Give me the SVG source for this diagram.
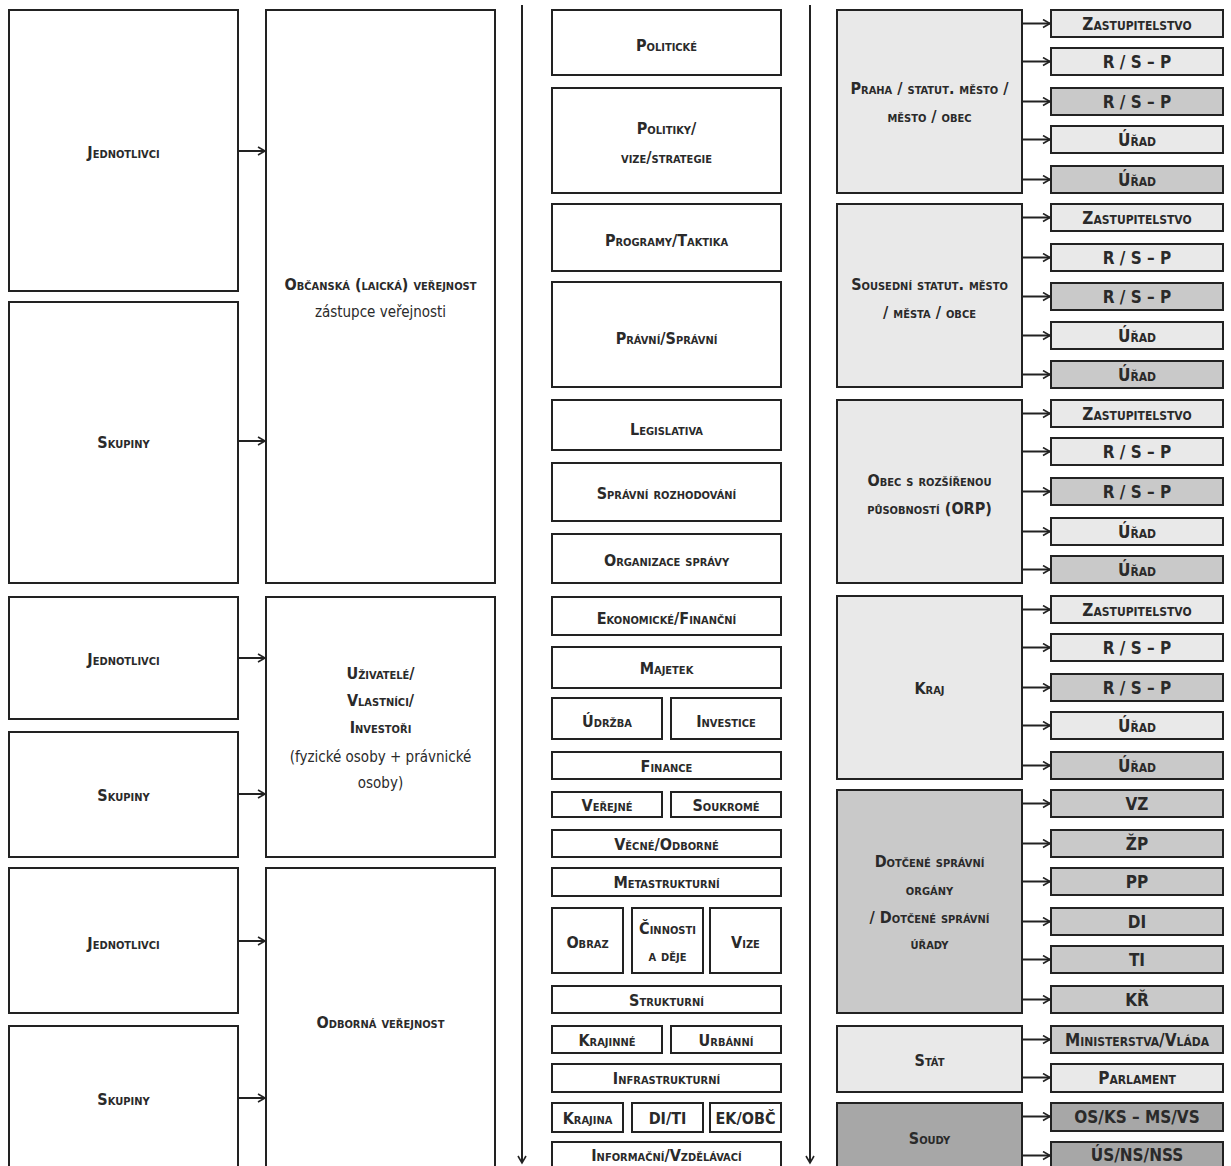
<svg xmlns="http://www.w3.org/2000/svg" width="1231" height="1166" viewBox="0 0 1231 1166">
<defs>
<style>
.b{fill:#fff;stroke:#222;stroke-width:2}
.l{fill:#e9e9e9;stroke:#222;stroke-width:2}
.m{fill:#c9c9c9;stroke:#222;stroke-width:2}
.d{fill:#a7a7a7;stroke:#222;stroke-width:2}
text{font-family:"DejaVu Sans Condensed","DejaVu Sans","Liberation Sans",sans-serif;font-variant:small-caps;font-size:16px;fill:#2a2a2a;text-anchor:middle;dominant-baseline:central;font-weight:bold}
text.n{font-variant:normal;font-weight:normal;font-size:15px}
text.r{font-size:17px;font-weight:bold}
.c{stroke:#222;stroke-width:2;fill:none}
</style>
<marker id="a" markerWidth="10" markerHeight="10" refX="8" refY="5" orient="auto" markerUnits="userSpaceOnUse">
<path d="M1,1 L8,5 L1,9" fill="none" stroke="#222" stroke-width="1.6"/>
</marker>
</defs>
<g id="connectors">
<path class="c" d="M238,151H265" marker-end="url(#a)"/>
<path class="c" d="M238,441H265" marker-end="url(#a)"/>
<path class="c" d="M238,658H265" marker-end="url(#a)"/>
<path class="c" d="M238,794H265" marker-end="url(#a)"/>
<path class="c" d="M238,941H265" marker-end="url(#a)"/>
<path class="c" d="M238,1098H265" marker-end="url(#a)"/>
<path class="c" d="M522,5V1163" marker-end="url(#a)"/>
<path class="c" d="M810,5V1163" marker-end="url(#a)"/>
<path class="c" d="M1022,23.5H1050" marker-end="url(#a)"/>
<path class="c" d="M1022,61.5H1050" marker-end="url(#a)"/>
<path class="c" d="M1022,101.5H1050" marker-end="url(#a)"/>
<path class="c" d="M1022,139.5H1050" marker-end="url(#a)"/>
<path class="c" d="M1022,179.5H1050" marker-end="url(#a)"/>
<path class="c" d="M1022,217.5H1050" marker-end="url(#a)"/>
<path class="c" d="M1022,257.5H1050" marker-end="url(#a)"/>
<path class="c" d="M1022,296.5H1050" marker-end="url(#a)"/>
<path class="c" d="M1022,335.5H1050" marker-end="url(#a)"/>
<path class="c" d="M1022,374.5H1050" marker-end="url(#a)"/>
<path class="c" d="M1022,413.5H1050" marker-end="url(#a)"/>
<path class="c" d="M1022,451.5H1050" marker-end="url(#a)"/>
<path class="c" d="M1022,491.5H1050" marker-end="url(#a)"/>
<path class="c" d="M1022,531.5H1050" marker-end="url(#a)"/>
<path class="c" d="M1022,569.5H1050" marker-end="url(#a)"/>
<path class="c" d="M1022,609.5H1050" marker-end="url(#a)"/>
<path class="c" d="M1022,647.5H1050" marker-end="url(#a)"/>
<path class="c" d="M1022,687.5H1050" marker-end="url(#a)"/>
<path class="c" d="M1022,725.5H1050" marker-end="url(#a)"/>
<path class="c" d="M1022,765.5H1050" marker-end="url(#a)"/>
<path class="c" d="M1022,803.5H1050" marker-end="url(#a)"/>
<path class="c" d="M1022,843.5H1050" marker-end="url(#a)"/>
<path class="c" d="M1022,881.5H1050" marker-end="url(#a)"/>
<path class="c" d="M1022,921.5H1050" marker-end="url(#a)"/>
<path class="c" d="M1022,959.5H1050" marker-end="url(#a)"/>
<path class="c" d="M1022,999.5H1050" marker-end="url(#a)"/>
<path class="c" d="M1022,1039.5H1050" marker-end="url(#a)"/>
<path class="c" d="M1022,1077.5H1050" marker-end="url(#a)"/>
<path class="c" d="M1022,1116.5H1050" marker-end="url(#a)"/>
<path class="c" d="M1022,1155.5H1050" marker-end="url(#a)"/>
</g>
<g id="left">
<g id="l1"><rect class="b" x="9" y="10" width="229" height="281"/><text x="123.5" y="152">Jednotlivci</text></g>
<g id="l2"><rect class="b" x="9" y="302" width="229" height="281"/><text x="123.5" y="442">Skupiny</text></g>
<g id="l3"><rect class="b" x="266" y="10" width="229" height="573"/><text x="380.5" y="284">Občanská (laická) veřejnost</text><text class="n" x="380.5" y="312">zástupce veřejnosti</text></g>
<g id="l4"><rect class="b" x="9" y="597" width="229" height="122"/><text x="123.5" y="659">Jednotlivci</text></g>
<g id="l5"><rect class="b" x="9" y="732" width="229" height="125"/><text x="123.5" y="795">Skupiny</text></g>
<g id="l6"><rect class="b" x="266" y="597" width="229" height="260"/><text x="380.5" y="673">Uživatelé/</text><text x="380.5" y="700">Vlastníci/</text><text x="380.5" y="727">Investoři</text><text class="n" x="380.5" y="757">(fyzické osoby + právnické</text><text class="n" x="380.5" y="783">osoby)</text></g>
<g id="l7"><rect class="b" x="9" y="868" width="229" height="145"/><text x="123.5" y="943">Jednotlivci</text></g>
<g id="l8"><rect class="b" x="9" y="1026" width="229" height="160"/><text x="123.5" y="1099">Skupiny</text></g>
<g id="l9"><rect class="b" x="266" y="868" width="229" height="320"/><text x="380.5" y="1022">Odborná veřejnost</text></g>
</g>
<g id="middle">
<g id="m1"><rect class="b" x="552" y="10" width="229" height="65"/><text x="666.5" y="45">Politické</text></g>
<g id="m2"><rect class="b" x="552" y="88" width="229" height="105"/><text x="666.5" y="128">Politiky/</text><text x="666.5" y="157">vize/strategie</text></g>
<g id="m3"><rect class="b" x="552" y="204" width="229" height="67"/><text x="666.5" y="240">Programy/Taktika</text></g>
<g id="m4"><rect class="b" x="552" y="282" width="229" height="105"/><text x="666.5" y="338">Právní/Správní</text></g>
<g id="m5"><rect class="b" x="552" y="400" width="229" height="50"/><text x="666.5" y="429">Legislativa</text></g>
<g id="m6"><rect class="b" x="552" y="463" width="229" height="58"/><text x="666.5" y="493">Správní rozhodování</text></g>
<g id="m7"><rect class="b" x="552" y="534" width="229" height="49"/><text x="666.5" y="560">Organizace správy</text></g>
<g id="m8"><rect class="b" x="552" y="597" width="229" height="38"/><text x="666.5" y="618">Ekonomické/Finanční</text></g>
<g id="m9"><rect class="b" x="552" y="647" width="229" height="41"/><text x="666.5" y="668">Majetek</text></g>
<g id="m10"><rect class="b" x="552" y="698" width="110" height="41"/><text x="607" y="721">Údržba</text></g>
<g id="m11"><rect class="b" x="671" y="698" width="110" height="41"/><text x="726" y="721">Investice</text></g>
<g id="m12"><rect class="b" x="552" y="752" width="229" height="27"/><text x="666.5" y="766">Finance</text></g>
<g id="m13"><rect class="b" x="552" y="792" width="110" height="25"/><text x="607" y="805">Veřejné</text></g>
<g id="m14"><rect class="b" x="671" y="792" width="110" height="25"/><text x="726" y="805">Soukromé</text></g>
<g id="m15"><rect class="b" x="552" y="830" width="229" height="27"/><text x="666.5" y="844">Věcné/Odborné</text></g>
<g id="m16"><rect class="b" x="552" y="868" width="229" height="28"/><text x="666.5" y="882">Metastrukturní</text></g>
<g id="m17"><rect class="b" x="552" y="908" width="71" height="65"/><text x="587.5" y="942">Obraz</text></g>
<g id="m18"><rect class="b" x="632" y="908" width="71" height="65"/><text x="667.5" y="928">Činnosti</text><text x="667.5" y="955">a děje</text></g>
<g id="m19"><rect class="b" x="710" y="908" width="71" height="65"/><text x="745.5" y="942">Vize</text></g>
<g id="m20"><rect class="b" x="552" y="986" width="229" height="27"/><text x="666.5" y="1000">Strukturní</text></g>
<g id="m21"><rect class="b" x="552" y="1026" width="110" height="27"/><text x="607" y="1040">Krajinné</text></g>
<g id="m22"><rect class="b" x="671" y="1026" width="110" height="27"/><text x="726" y="1040">Urbánní</text></g>
<g id="m23"><rect class="b" x="552" y="1064" width="229" height="28"/><text x="666.5" y="1078">Infrastrukturní</text></g>
<g id="m24"><rect class="b" x="552" y="1103" width="71" height="29"/><text x="587.5" y="1118">Krajina</text></g>
<g id="m25"><rect class="b" x="632" y="1103" width="71" height="29"/><text x="667.5" y="1118">DI/TI</text></g>
<g id="m26"><rect class="b" x="710" y="1103" width="71" height="29"/><text x="745.5" y="1118">EK/OBČ</text></g>
<g id="m27"><rect class="b" x="552" y="1142" width="229" height="40"/><text x="666.5" y="1155">Informační/Vzdělávací</text></g>
</g>
<g id="right">
<g id="r1"><rect class="l" x="837" y="10" width="185" height="183"/><text x="929.5" y="88">Praha / statut. město /</text><text x="929.5" y="116">město / obec</text></g>
<g id="r1a"><rect class="l" x="1051" y="10" width="172" height="27"/><text class="r" x="1137" y="24">Zastupitelstvo</text></g>
<g id="r1b"><rect class="l" x="1051" y="48" width="172" height="27"/><text class="r" x="1137" y="62">R / S – P</text></g>
<g id="r1c"><rect class="m" x="1051" y="88" width="172" height="27"/><text class="r" x="1137" y="102">R / S – P</text></g>
<g id="r1d"><rect class="l" x="1051" y="126" width="172" height="27"/><text class="r" x="1137" y="140">Úřad</text></g>
<g id="r1e"><rect class="m" x="1051" y="166" width="172" height="27"/><text class="r" x="1137" y="180">Úřad</text></g>
<g id="r2"><rect class="l" x="837" y="204" width="185" height="183"/><text x="929.5" y="284">Sousední statut. město</text><text x="929.5" y="312">/ města / obce</text></g>
<g id="r2a"><rect class="l" x="1051" y="204" width="172" height="27"/><text class="r" x="1137" y="218">Zastupitelstvo</text></g>
<g id="r2b"><rect class="l" x="1051" y="244" width="172" height="27"/><text class="r" x="1137" y="258">R / S – P</text></g>
<g id="r2c"><rect class="m" x="1051" y="283" width="172" height="27"/><text class="r" x="1137" y="297">R / S – P</text></g>
<g id="r2d"><rect class="l" x="1051" y="322" width="172" height="27"/><text class="r" x="1137" y="336">Úřad</text></g>
<g id="r2e"><rect class="m" x="1051" y="361" width="172" height="27"/><text class="r" x="1137" y="375">Úřad</text></g>
<g id="r3"><rect class="l" x="837" y="400" width="185" height="183"/><text x="929.5" y="480">Obec s rozšířenou</text><text x="929.5" y="508">působností (ORP)</text></g>
<g id="r3a"><rect class="l" x="1051" y="400" width="172" height="27"/><text class="r" x="1137" y="414">Zastupitelstvo</text></g>
<g id="r3b"><rect class="l" x="1051" y="438" width="172" height="27"/><text class="r" x="1137" y="452">R / S – P</text></g>
<g id="r3c"><rect class="m" x="1051" y="478" width="172" height="27"/><text class="r" x="1137" y="492">R / S – P</text></g>
<g id="r3d"><rect class="l" x="1051" y="518" width="172" height="27"/><text class="r" x="1137" y="532">Úřad</text></g>
<g id="r3e"><rect class="m" x="1051" y="556" width="172" height="27"/><text class="r" x="1137" y="570">Úřad</text></g>
<g id="r4"><rect class="l" x="837" y="596" width="185" height="183"/><text x="929.5" y="688">Kraj</text></g>
<g id="r4a"><rect class="l" x="1051" y="596" width="172" height="27"/><text class="r" x="1137" y="610">Zastupitelstvo</text></g>
<g id="r4b"><rect class="l" x="1051" y="634" width="172" height="27"/><text class="r" x="1137" y="648">R / S – P</text></g>
<g id="r4c"><rect class="m" x="1051" y="674" width="172" height="27"/><text class="r" x="1137" y="688">R / S – P</text></g>
<g id="r4d"><rect class="l" x="1051" y="712" width="172" height="27"/><text class="r" x="1137" y="726">Úřad</text></g>
<g id="r4e"><rect class="m" x="1051" y="752" width="172" height="27"/><text class="r" x="1137" y="766">Úřad</text></g>
<g id="r5"><rect class="m" x="837" y="790" width="185" height="223"/><text x="929.5" y="861">Dotčené správní</text><text x="929.5" y="889">orgány</text><text x="929.5" y="917">/ Dotčené správní</text><text x="929.5" y="943">úřady</text></g>
<g id="r5a"><rect class="m" x="1051" y="790" width="172" height="27"/><text class="r" x="1137" y="804">VZ</text></g>
<g id="r5b"><rect class="m" x="1051" y="830" width="172" height="27"/><text class="r" x="1137" y="844">ŽP</text></g>
<g id="r5c"><rect class="m" x="1051" y="868" width="172" height="27"/><text class="r" x="1137" y="882">PP</text></g>
<g id="r5d"><rect class="m" x="1051" y="908" width="172" height="27"/><text class="r" x="1137" y="922">DI</text></g>
<g id="r5e"><rect class="m" x="1051" y="946" width="172" height="27"/><text class="r" x="1137" y="960">TI</text></g>
<g id="r5f"><rect class="m" x="1051" y="986" width="172" height="27"/><text class="r" x="1137" y="1000">KŘ</text></g>
<g id="r6"><rect class="l" x="837" y="1026" width="185" height="66"/><text x="929.5" y="1060">Stát</text></g>
<g id="r6a"><rect class="m" x="1051" y="1026" width="172" height="27"/><text class="r" x="1137" y="1040">Ministerstva/Vláda</text></g>
<g id="r6b"><rect class="l" x="1051" y="1064" width="172" height="28"/><text class="r" x="1137" y="1078">Parlament</text></g>
<g id="r7"><rect class="d" x="837" y="1103" width="185" height="80"/><text x="929.5" y="1138">Soudy</text></g>
<g id="r7a"><rect class="d" x="1051" y="1103" width="172" height="28"/><text class="r" x="1137" y="1117">OS/KS – MS/VS</text></g>
<g id="r7b"><rect class="d" x="1051" y="1142" width="172" height="40"/><text class="r" x="1137" y="1155">ÚS/NS/NSS</text></g>
</g>
</svg>
